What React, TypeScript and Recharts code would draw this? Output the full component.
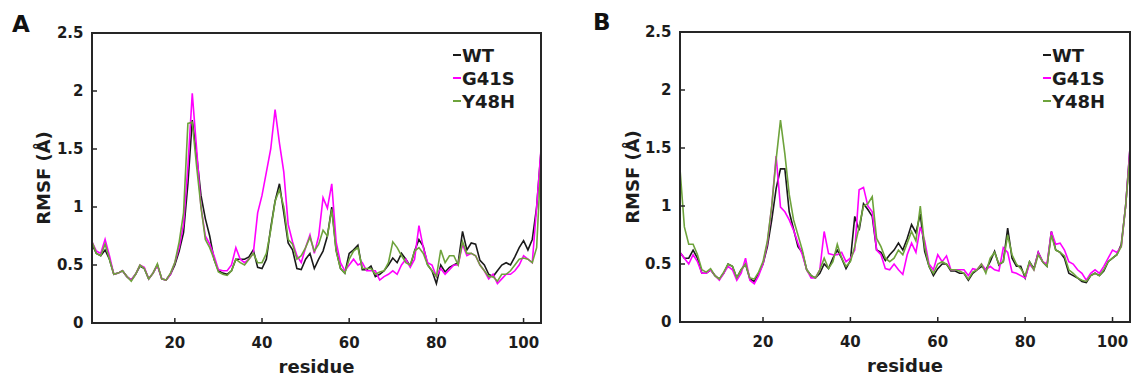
import React from 'react';
import { LineChart, Line, XAxis, YAxis, Legend } from 'recharts';

const FONT = '"DejaVu Sans", Verdana, sans-serif';
const TEXT_COLOR = '#1c1c1c';
const AXIS_COLOR = '#262626';

const SERIES = [
  { key: 'WT', color: '#1a1a1a' },
  { key: 'G41S', color: '#ff00ff' },
  { key: 'Y48H', color: '#6ea33c' },
];

const X_TICKS = [20, 40, 60, 80, 100];
const Y_TICKS = [0, 0.5, 1, 1.5, 2, 2.5];
const X_DOMAIN: [number, number] = [1, 104];
const Y_DOMAIN: [number, number] = [0, 2.5];

// Panel A
const WT_A = [
  0.68, 0.60, 0.58, 0.63, 0.55, 0.42, 0.43, 0.45, 0.40, 0.37,
  0.42, 0.49, 0.47, 0.38, 0.43, 0.50, 0.38, 0.37, 0.42, 0.50,
  0.62, 0.78, 1.20, 1.75, 1.45, 1.10, 0.90, 0.75, 0.55, 0.45,
  0.43, 0.42, 0.45, 0.55, 0.55, 0.55, 0.57, 0.63, 0.48, 0.47,
  0.55, 0.82, 1.05, 1.20, 0.95, 0.69, 0.63, 0.47, 0.46, 0.55,
  0.60, 0.47, 0.55, 0.62, 0.75, 1.00, 0.63, 0.47, 0.43, 0.60,
  0.63, 0.67, 0.46, 0.46, 0.49, 0.40, 0.42, 0.45, 0.50, 0.56,
  0.52, 0.60, 0.55, 0.49, 0.62, 0.72, 0.66, 0.50, 0.45, 0.34,
  0.50, 0.44, 0.48, 0.50, 0.52, 0.79, 0.63, 0.69, 0.68, 0.54,
  0.50, 0.42, 0.40, 0.45, 0.50, 0.52, 0.50, 0.57, 0.65, 0.71,
  0.63, 0.72, 1.00, 1.48,
];
const G41S_A = [
  0.70, 0.62, 0.60, 0.72, 0.58, 0.42, 0.43, 0.45, 0.40, 0.37,
  0.42, 0.50, 0.48, 0.38, 0.43, 0.50, 0.38, 0.37, 0.42, 0.52,
  0.65, 0.85, 1.35, 1.98, 1.50, 1.00, 0.75, 0.68, 0.58, 0.46,
  0.45, 0.45, 0.50, 0.65, 0.55, 0.52, 0.55, 0.60, 0.95, 1.10,
  1.30, 1.50, 1.84, 1.55, 1.30, 0.85, 0.70, 0.58, 0.52, 0.65,
  0.76, 0.60, 0.75, 1.08, 0.99, 1.20, 0.70, 0.52, 0.45, 0.50,
  0.55, 0.50, 0.52, 0.45, 0.45, 0.45, 0.37, 0.40, 0.42, 0.45,
  0.42, 0.50, 0.55, 0.48, 0.55, 0.84, 0.65, 0.52, 0.50, 0.40,
  0.47, 0.42, 0.46, 0.50, 0.50, 0.68, 0.58, 0.60, 0.58, 0.50,
  0.45, 0.38, 0.42, 0.34, 0.38, 0.42, 0.42, 0.45, 0.50, 0.58,
  0.55, 0.52, 1.00, 1.50,
];
const Y48H_A = [
  0.70, 0.60, 0.58, 0.68, 0.55, 0.42, 0.43, 0.45, 0.40, 0.36,
  0.42, 0.50, 0.47, 0.38, 0.43, 0.51, 0.38, 0.37, 0.43, 0.52,
  0.70, 0.95, 1.72, 1.73, 1.35, 1.00, 0.72, 0.65, 0.55, 0.44,
  0.42, 0.41, 0.45, 0.55, 0.52, 0.50, 0.55, 0.60, 0.52, 0.52,
  0.60, 0.80, 1.05, 1.15, 1.00, 0.72, 0.68, 0.55, 0.58, 0.65,
  0.74, 0.62, 0.68, 0.80, 0.75, 0.98, 0.62, 0.47, 0.43, 0.55,
  0.62, 0.65, 0.47, 0.47, 0.47, 0.42, 0.44, 0.45, 0.52, 0.70,
  0.65, 0.58, 0.52, 0.50, 0.62, 0.65, 0.60, 0.50, 0.45, 0.40,
  0.63, 0.52, 0.58, 0.58, 0.50, 0.70, 0.60, 0.60, 0.58, 0.50,
  0.45, 0.40, 0.40, 0.36, 0.42, 0.42, 0.45, 0.50, 0.55, 0.56,
  0.55, 0.52, 0.65, 1.40,
];

// Panel B
const WT_B = [
  0.60, 0.55, 0.55, 0.62, 0.55, 0.42, 0.42, 0.45, 0.40, 0.37,
  0.42, 0.50, 0.48, 0.38, 0.45, 0.50, 0.37, 0.35, 0.42, 0.50,
  0.65, 0.88, 1.15, 1.32, 1.32, 0.95, 0.80, 0.65, 0.60, 0.45,
  0.40, 0.38, 0.42, 0.50, 0.46, 0.55, 0.62, 0.55, 0.46, 0.53,
  0.91, 0.79, 1.02, 0.97, 0.91, 0.62, 0.60, 0.53, 0.58, 0.62,
  0.68, 0.62, 0.72, 0.84, 0.77, 0.93, 0.61, 0.48, 0.40, 0.46,
  0.50, 0.50, 0.44, 0.44, 0.42, 0.42, 0.36, 0.42, 0.45, 0.48,
  0.45, 0.52, 0.61, 0.49, 0.52, 0.81, 0.55, 0.48, 0.48, 0.38,
  0.52, 0.46, 0.60, 0.52, 0.48, 0.78, 0.62, 0.60, 0.55, 0.42,
  0.40, 0.38, 0.35, 0.34, 0.40, 0.42, 0.40, 0.44, 0.52, 0.55,
  0.58, 0.67, 1.00, 1.50,
];
const G41S_B = [
  0.60, 0.55, 0.50, 0.58, 0.52, 0.42, 0.42, 0.45, 0.40, 0.36,
  0.42, 0.48, 0.45, 0.36, 0.42, 0.55, 0.36, 0.33, 0.40, 0.50,
  0.68, 1.00, 1.43, 0.99, 0.95, 0.88, 0.79, 0.68, 0.58, 0.45,
  0.38, 0.38, 0.45, 0.78, 0.59, 0.58, 0.58, 0.60, 0.52, 0.55,
  0.62, 1.14, 1.16, 1.00, 0.95, 0.62, 0.58, 0.46, 0.45, 0.50,
  0.45, 0.41, 0.58, 0.68, 0.60, 0.82, 0.70, 0.50, 0.45, 0.58,
  0.52, 0.57, 0.45, 0.45, 0.45, 0.45, 0.40, 0.46, 0.45, 0.50,
  0.45, 0.48, 0.45, 0.44, 0.64, 0.60, 0.43, 0.42, 0.40, 0.38,
  0.50, 0.45, 0.60, 0.52, 0.50, 0.78, 0.67, 0.68, 0.62, 0.52,
  0.50, 0.45, 0.42, 0.36, 0.42, 0.45, 0.42, 0.48, 0.55, 0.62,
  0.60, 0.65, 1.00, 1.50,
];
const Y48H_B = [
  1.32, 0.82, 0.67, 0.67, 0.58, 0.45, 0.43, 0.46, 0.40, 0.37,
  0.43, 0.50, 0.48, 0.38, 0.45, 0.50, 0.38, 0.37, 0.43, 0.52,
  0.70, 1.00, 1.40, 1.74, 1.45, 1.10, 0.88, 0.75, 0.62, 0.45,
  0.40, 0.38, 0.45, 0.55, 0.46, 0.52, 0.67, 0.55, 0.48, 0.52,
  0.65, 0.82, 1.00, 1.02, 1.08, 0.72, 0.65, 0.55, 0.52, 0.55,
  0.62, 0.58, 0.68, 0.78, 0.70, 1.00, 0.65, 0.48, 0.42, 0.50,
  0.52, 0.50, 0.45, 0.45, 0.44, 0.42, 0.37, 0.43, 0.45, 0.50,
  0.42, 0.55, 0.60, 0.50, 0.52, 0.75, 0.58, 0.50, 0.46, 0.40,
  0.52, 0.45, 0.58, 0.52, 0.48, 0.75, 0.62, 0.60, 0.57, 0.45,
  0.42, 0.38, 0.36, 0.35, 0.40, 0.42, 0.40, 0.45, 0.52, 0.55,
  0.58, 0.65, 1.00, 1.45,
];

const buildRows = (wt: number[], g: number[], y: number[]) =>
  wt.map((v, i) => ({ residue: i + 1, WT: v, G41S: g[i], Y48H: y[i] }));

const ROWS_A = buildRows(WT_A, G41S_A, Y48H_A);
const ROWS_B = buildRows(WT_B, G41S_B, Y48H_B);

const tickStyle = { fill: TEXT_COLOR, fontSize: 15, fontWeight: 700, fontFamily: FONT };
const axisLineStyle = { stroke: AXIS_COLOR, strokeWidth: 2, strokeLinecap: 'square' as const };
const tickLineStyle = { stroke: AXIS_COLOR, strokeWidth: 1.5 };

const LegendContent = (props: any) => {
  const payload = [...(props.payload || [])].sort(
    (a: any, b: any) =>
      SERIES.findIndex((s) => s.key === a.value) - SERIES.findIndex((s) => s.key === b.value)
  );
  return (
    <div
      style={{
        fontFamily: FONT,
        fontWeight: 700,
        fontSize: 18,
        color: TEXT_COLOR,
        lineHeight: '23px',
      }}
    >
      {payload.map((entry: any) => (
        <div key={entry.value} style={{ display: 'flex', alignItems: 'center', whiteSpace: 'nowrap' }}>
          <span
            style={{
              display: 'inline-block',
              width: 8,
              height: 2,
              background: entry.color,
              marginRight: 1,
            }}
          />
          <span>{entry.value}</span>
        </div>
      ))}
    </div>
  );
};

type PanelCfg = {
  left: number;
  width: number;
  yAxisWidth: number;
  marginTop: number;
  marginRight: number;
  xAxisHeight: number;
  legendLeft: number;
  yLabelOffset: number;
  xLabelOffset: number;
};

const PANEL_A: PanelCfg = {
  left: 0, width: 560, yAxisWidth: 92, marginTop: 32, marginRight: 18,
  xAxisHeight: 54, legendLeft: 453, yLabelOffset: 43.5, xLabelOffset: 4,
};
const PANEL_B: PanelCfg = {
  left: 580, width: 551, yAxisWidth: 100, marginTop: 31, marginRight: 0,
  xAxisHeight: 55, legendLeft: 463, yLabelOffset: 52.5, xLabelOffset: 5,
};

const Panel = ({ rows, cfg }: { rows: any[]; cfg: PanelCfg }) => (
  <div style={{ position: 'absolute', left: cfg.left, top: 0 }}>
    <LineChart
      width={cfg.width}
      height={377}
      data={rows}
      margin={{ top: cfg.marginTop, right: cfg.marginRight, bottom: 0, left: 0 }}
    >
      <XAxis
        dataKey="residue"
        type="number"
        domain={X_DOMAIN}
        ticks={X_TICKS}
        interval={0}
        height={cfg.xAxisHeight}
        tickSize={-5}
        tickMargin={19}
        tick={tickStyle}
        axisLine={axisLineStyle}
        tickLine={tickLineStyle}
        label={{
          value: 'residue',
          position: 'insideBottom',
          offset: cfg.xLabelOffset,
          fill: TEXT_COLOR,
          fontSize: 18,
          fontWeight: 700,
          fontFamily: FONT,
        }}
      />
      <XAxis
        xAxisId="top"
        orientation="top"
        type="number"
        domain={X_DOMAIN}
        ticks={X_TICKS}
        interval={0}
        height={1}
        tickSize={-5}
        tick={false}
        axisLine={axisLineStyle}
        tickLine={tickLineStyle}
      />
      <YAxis
        type="number"
        domain={Y_DOMAIN}
        ticks={Y_TICKS}
        interval={0}
        width={cfg.yAxisWidth}
        tickSize={-5}
        tickMargin={13.5}
        tick={tickStyle}
        axisLine={axisLineStyle}
        tickLine={tickLineStyle}
        label={{
          value: 'RMSF (Å)',
          angle: -90,
          position: 'insideLeft',
          offset: cfg.yLabelOffset,
          style: { textAnchor: 'middle' },
          fill: TEXT_COLOR,
          fontSize: 18,
          fontWeight: 700,
          fontFamily: FONT,
        }}
      />
      <YAxis
        yAxisId="right"
        orientation="right"
        type="number"
        domain={Y_DOMAIN}
        ticks={Y_TICKS}
        interval={0}
        width={1}
        tickSize={-5}
        tick={false}
        axisLine={axisLineStyle}
        tickLine={tickLineStyle}
      />
      <Legend
        layout="vertical"
        align="center"
        verticalAlign="middle"
        content={LegendContent}
        wrapperStyle={{ left: cfg.legendLeft, top: 43.8, width: 'auto', height: 'auto' }}
      />
      {SERIES.map((s) => (
        <Line
          key={s.key}
          type="linear"
          dataKey={s.key}
          name={s.key}
          stroke={s.color}
          strokeWidth={1.6}
          dot={false}
          activeDot={false}
          isAnimationActive={false}
        />
      ))}
    </LineChart>
  </div>
);

const letterStyle: React.CSSProperties = {
  position: 'absolute',
  fontFamily: FONT,
  fontWeight: 700,
  fontSize: 23,
  lineHeight: 1,
  color: '#111',
};

export default function App() {
  return (
    <div
      style={{
        position: 'absolute',
        left: 0,
        top: 0,
        width: 1131,
        height: 377,
        background: '#fff',
        overflow: 'hidden',
      }}
    >
      <Panel rows={ROWS_A} cfg={PANEL_A} />
      <Panel rows={ROWS_B} cfg={PANEL_B} />
      <div style={{ ...letterStyle, left: 12, top: 12.6 }}>A</div>
      <div style={{ ...letterStyle, left: 593, top: 11.3 }}>B</div>
    </div>
  );
}
